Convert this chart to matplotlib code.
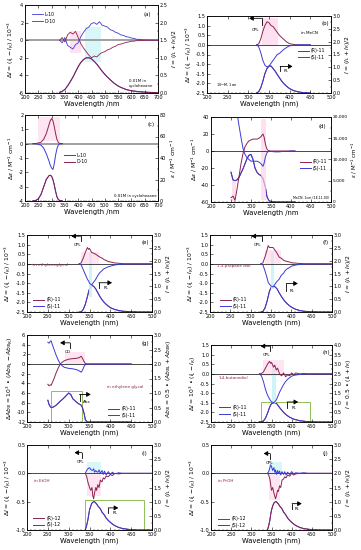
import matplotlib
matplotlib.use("Agg")
import matplotlib.pyplot as plt
from matplotlib.ticker import AutoMinorLocator, FuncFormatter
from matplotlib.patches import Rectangle

BLUE = '#3b3bd4'
MAROON = '#8c2351'
GREEN = '#8fbf5a'
TXT = '#8c2351'

# ---------------- data ----------------
# (a) L-10 / D-10, CPL (1e-3) and PL
wl_a = [330, 340, 350, 360, 370, 380, 390, 400, 410, 420, 430, 440, 450, 460, 470, 480, 490, 500,
        510, 520, 530, 540, 550, 560, 570, 580, 590, 600, 610, 620, 630, 640, 650, 660, 680, 700]
cpl_a_L = [0.0, -0.3, 0.3, -0.6, -0.8, -1.0, -0.5, -0.3, 0.4, 0.9, 1.3, 1.5, 1.9, 2.0, 1.8, 2.1, 1.7, 1.6,
           1.5, 1.2, 1.1, 0.9, 0.8, 0.6, 0.55, 0.4, 0.35, 0.25, 0.2, 0.1, 0.1, 0.05, 0.03, 0.02, 0.0, 0.0]
cpl_a_D = [0.0, 0.3, -0.2, 0.6, 0.9, 0.7, 1.0, 0.3, -0.4, -0.9, -1.3, -1.7, -2.0, -1.8, -1.9, -1.6, -1.4, -1.3,
           -1.1, -1.0, -0.8, -0.7, -0.5, -0.45, -0.35, -0.25, -0.2, -0.12, -0.1, -0.05, -0.05, -0.03, -0.02, 0.0, 0.0, 0.0]
pl_a = [0.02, 0.05, 0.1, 0.2, 0.32, 0.45, 0.6, 0.75, 0.87, 0.95, 1.0, 1.0, 0.97, 0.9, 0.82, 0.72, 0.62, 0.53,
        0.45, 0.38, 0.31, 0.25, 0.2, 0.16, 0.13, 0.1, 0.08, 0.065, 0.055, 0.045, 0.038, 0.03, 0.025, 0.02, 0.015, 0.01]

# (b) (R)/(S)-11 in MeCN
wl_b = [320, 325, 330, 335, 340, 345, 350, 355, 360, 365, 370, 375, 380, 385, 390, 395, 400, 410, 420, 430, 440, 450]
cpl_b_R = [0.0, 0.05, 0.3, 0.7, 1.0, 1.2, 1.15, 1.0, 0.95, 0.8, 0.65, 0.5, 0.4, 0.3, 0.2, 0.12, 0.06, 0.02, 0.0, 0.0, 0.0, 0.0]
cpl_b_S = [0.0, -0.1, -0.4, -0.8, -1.05, -1.15, -1.1, -0.95, -0.8, -0.65, -0.5, -0.45, -0.35, -0.25, -0.17, -0.1, -0.05, -0.02, 0.0, 0.0, 0.0, 0.0]
pl_b = [0.0, 0.05, 0.2, 0.45, 0.75, 0.95, 1.05, 1.05, 0.95, 0.85, 0.72, 0.6, 0.48, 0.38, 0.3, 0.23, 0.17, 0.09, 0.05, 0.02, 0.01, 0.0]

# (c) CD / absorption L-10, D-10
wl_c = [230, 240, 250, 260, 270, 280, 290, 295, 300, 305, 310, 315, 320, 325, 330, 340]
cd_c_D = [0.0, 0.0, 0.05, 0.1, 0.3, 0.7, 1.3, 1.6, 1.75, 1.6, 1.2, 0.7, 0.3, 0.1, 0.02, 0.0]
cd_c_L = [0.0, 0.0, -0.05, -0.1, -0.3, -0.7, -1.2, -1.5, -1.7, -1.8, -1.4, -0.8, -0.35, -0.1, -0.02, 0.0]
abs_c = [0.0, 0.5, 2.0, 6.0, 13.0, 20.0, 23.5, 24.0, 23.0, 20.0, 15.0, 9.0, 4.0, 1.5, 0.5, 0.0]

# (d) CD / absorption (R)/(S)-11 in MeCN
wl_d = [250, 255, 260, 265, 270, 275, 280, 285, 290, 295, 300, 305, 310, 315, 320, 325, 330, 333, 336, 340,
        345, 350, 360, 370, 380, 390, 400, 410]
cd_d_R = [-55, -53, -58, -45, -30, -15, -3, 5, 9, 12, 13, 14, 14, 14, 15, 17, 20, 16, 8, 2,
          0, 0, 0, 0, 0, 0, 0, 0]
cd_d_S = [58, 56, 55, 45, 30, 16, 3, -4, -8, -10, -12, -12, -12, -12, -13, -15, -18, -14, -7, -2,
          0, -0.5, -1, -1, -0.5, -0.5, 0, 0]
abs_d = [7000, 5200, 5000, 5200, 5800, 6800, 7800, 9000, 10200, 11000, 11200, 10000, 8000, 7000, 6500, 6200, 5500, 4500, 3500, 1200,
         300, 100, 0, 0, 0, 0, 0, 0]

# (e) ethylene glycol
wl_e = [325, 330, 335, 340, 345, 348, 350, 355, 360, 365, 370, 375, 380, 385, 390, 395, 400, 410, 420, 430, 440, 450, 470, 500]
cpl_e_R = [0.0, 0.05, 0.3, 0.6, 0.85, 0.75, 0.8, 0.6, 0.55, 0.5, 0.42, 0.35, 0.3, 0.22, 0.18, 0.12, 0.1, 0.05, 0.03, 0.01, 0.0, 0.0, 0.0, 0.0]
cpl_e_S = [0.0, -0.05, -0.3, -0.55, -0.8, -0.9, -1.0, -1.1, -0.95, -0.8, -0.6, -0.45, -0.35, -0.25, -0.2, -0.15, -0.12, -0.06, -0.03, -0.01, 0.0, 0.0, 0.0, 0.0]
pl_e = [0.0, 0.0, 0.1, 0.3, 0.6, 0.8, 0.9, 1.05, 1.0, 0.9, 0.75, 0.6, 0.48, 0.38, 0.3, 0.23, 0.17, 0.1, 0.06, 0.03, 0.02, 0.01, 0.0, 0.0]

# (f) 1,3-propane diol
wl_f = [325, 330, 335, 340, 343, 346, 350, 355, 360, 365, 370, 375, 380, 385, 390, 395, 400, 410, 420, 430, 440, 450, 470, 500]
cpl_f_R = [0.0, 0.05, 0.35, 0.7, 0.95, 0.85, 0.85, 0.85, 0.7, 0.55, 0.35, 0.3, 0.2, 0.15, 0.12, 0.1, 0.06, 0.04, 0.02, 0.01, 0.0, 0.0, 0.0, 0.0]
cpl_f_S = [0.0, -0.05, -0.35, -0.7, -0.95, -1.05, -1.15, -1.2, -1.05, -0.9, -0.8, -0.6, -0.5, -0.35, -0.25, -0.2, -0.12, -0.06, -0.03, -0.01, 0.0, 0.0, 0.0, 0.0]
pl_f = [0.0, 0.02, 0.15, 0.4, 0.6, 0.8, 0.95, 1.02, 0.98, 0.9, 0.75, 0.62, 0.5, 0.4, 0.32, 0.25, 0.19, 0.11, 0.06, 0.03, 0.02, 0.01, 0.0, 0.0]

# (g) CD / Abs in ethylene glycol
wl_g = [250, 253, 256, 258, 260, 265, 270, 275, 280, 285, 290, 300, 305, 310, 320, 325, 330, 333, 337, 340, 345, 350, 380, 410, 450]
cd_g_R = [-4.2, -4.5, -4.3, -4.4, -4.0, -3.0, -1.8, -0.8, 0.0, 0.4, 0.7, 1.0, 1.05, 1.1, 1.2, 1.3, 1.6, 1.2, 0.5, 0.1, 0.0, 0.0, 0.0, 0.0, 0.0]
cd_g_S = [4.5, 4.3, 4.7, 4.8, 4.2, 3.0, 1.8, 0.8, 0.0, -0.4, -0.7, -0.9, -0.95, -1.0, -1.2, -1.4, -1.7, -1.3, -0.5, -0.1, 0.0, 0.0, 0.0, 0.0, 0.0]
abs_g = [0.75, 0.6, 0.53, 0.5, 0.5, 0.53, 0.58, 0.65, 0.72, 0.78, 0.85, 1.0, 0.95, 0.8, 0.67, 0.62, 0.58, 0.5, 0.3, 0.08, 0.0, 0.0, 0.0, 0.0, 0.0]

# (h) 1,4-butanediol
wl_h = [320, 325, 330, 335, 340, 345, 348, 350, 355, 358, 362, 365, 370, 375, 380, 385, 390, 395, 400, 405, 410, 420, 430, 440, 460, 500]
cpl_h_R = [0.0, 0.02, 0.1, 0.3, 0.5, 0.65, 0.55, 0.6, 0.35, 0.45, 0.2, 0.3, 0.0, -0.1, 0.05, -0.15, -0.05, -0.1, 0.05, -0.05, 0.05, 0.0, 0.02, 0.0, 0.0, 0.0]
cpl_h_S = [0.0, -0.1, -0.4, -0.8, -1.1, -1.3, -1.4, -1.45, -1.5, -1.45, -1.35, -1.2, -0.95, -0.75, -0.55, -0.4, -0.28, -0.2, -0.12, -0.08, -0.06, -0.03, -0.01, 0.0, 0.0, 0.0]
pl_h = [0.0, 0.02, 0.05, 0.2, 0.45, 0.75, 0.88, 0.95, 1.0, 1.0, 0.97, 0.9, 0.75, 0.62, 0.5, 0.4, 0.32, 0.25, 0.2, 0.15, 0.12, 0.07, 0.04, 0.02, 0.0, 0.0]

# (i) (R)/(S)-12 in EtOH
wl_i = [340, 343, 346, 350, 353, 356, 358, 360, 362, 365, 367, 370, 373, 376, 380, 383, 386, 390, 395, 400, 405, 410, 420, 430, 440, 450, 470, 500]
cpl_i_S = [0.0, 0.05, 0.08, 0.1, 0.07, 0.05, 0.06, 0.08, 0.02, 0.05, 0.03, 0.02, 0.06, 0.0, 0.05, -0.02, 0.04, -0.03, 0.03, -0.02, 0.02, -0.01, 0.01, 0.0, 0.0, 0.0, 0.0, 0.0]
cpl_i_R = [0.0, -0.05, -0.15, -0.25, -0.3, -0.25, -0.4, -0.45, -0.35, -0.25, -0.3, -0.2, -0.25, -0.12, -0.15, -0.08, -0.1, -0.05, -0.06, -0.02, -0.04, 0.0, -0.01, 0.0, 0.0, 0.0, 0.0, 0.0]
pl_i = [0.0, 0.15, 0.35, 0.7, 0.85, 0.95, 0.98, 1.0, 1.0, 0.95, 0.92, 0.85, 0.8, 0.75, 0.63, 0.58, 0.52, 0.42, 0.34, 0.27, 0.21, 0.16, 0.09, 0.05, 0.03, 0.01, 0.0, 0.0]

# (j) (R)/(S)-12 in PrOH
wl_j = [340, 343, 346, 348, 350, 353, 356, 358, 360, 362, 365, 367, 370, 373, 376, 380, 383, 386, 390, 395, 400, 405, 410, 420, 430, 440, 450, 470, 500]
cpl_j_R = [0.0, 0.03, 0.1, 0.15, 0.12, 0.05, 0.1, 0.02, 0.06, -0.02, 0.05, 0.0, 0.04, -0.03, 0.03, -0.02, 0.03, -0.03, 0.02, -0.02, 0.03, -0.01, 0.01, 0.0, 0.01, 0.0, 0.0, 0.0, 0.0]
cpl_j_S = [0.0, -0.03, -0.1, -0.2, -0.3, -0.25, -0.35, -0.4, -0.45, -0.4, -0.3, -0.32, -0.22, -0.25, -0.12, -0.1, -0.06, -0.08, -0.03, -0.05, 0.0, -0.03, -0.01, 0.0, 0.0, 0.0, 0.0, 0.0, 0.0]
pl_j = [0.0, 0.15, 0.35, 0.55, 0.7, 0.85, 0.95, 0.98, 1.0, 1.0, 0.95, 0.92, 0.85, 0.8, 0.75, 0.63, 0.58, 0.52, 0.42, 0.34, 0.27, 0.21, 0.16, 0.09, 0.05, 0.03, 0.01, 0.0, 0.0]

# ---------------- figure ----------------
W, H = 361, 550
fig = plt.figure(figsize=(W / 100, H / 100), dpi=100)
plt.rcParams['font.family'] = ['DejaVu Sans']
plt.rcParams['mathtext.fontset'] = 'dejavusans'


def make_axes(x0, x1, y0, y1):
    return fig.add_axes([x0 / W, 1 - y1 / H, (x1 - x0) / W, (y1 - y0) / H])


def fmt1(v, p):
    return f'{v:.1f}'


def fmt0(v, p):
    return f'{v:.0f}'


def fmtk(v, p):
    return f'{v:,.0f}'


def style(ax, xlim, xticks, ylim, yticks, y2lim, y2ticks, yfmt, y2fmt, ylabel, y2label, xlabel,
          y2size=3.6):
    ax2 = ax.twinx()
    ax.set_xlim(*xlim)
    ax.set_xticks(xticks)
    ax.set_ylim(*ylim)
    ax.set_yticks(yticks)
    ax2.set_ylim(*y2lim)
    ax2.set_yticks(y2ticks)
    ax.yaxis.set_major_formatter(FuncFormatter(yfmt))
    ax2.yaxis.set_major_formatter(FuncFormatter(y2fmt))
    ax.xaxis.set_minor_locator(AutoMinorLocator(5))
    ax.yaxis.set_minor_locator(AutoMinorLocator(2))
    ax2.yaxis.set_minor_locator(AutoMinorLocator(2))
    for a in (ax, ax2):
        for s in a.spines.values():
            s.set_linewidth(0.5)
    ax.tick_params(which='major', direction='in', top=True, right=False, labelsize=3.6,
                   length=2.0, width=0.4, pad=1.2)
    ax.tick_params(which='minor', direction='in', top=True, right=False, length=1.0, width=0.3)
    ax2.tick_params(which='major', direction='in', labelsize=y2size, length=2.0, width=0.4, pad=1.2)
    ax2.tick_params(which='minor', direction='in', length=1.0, width=0.3)
    ax.set_ylabel(ylabel, fontsize=4.3, labelpad=1.5)
    ax2.set_ylabel(y2label, fontsize=4.3, labelpad=1.5)
    ax.set_xlabel(xlabel, fontsize=4.9, labelpad=0.8)
    ax.set_zorder(ax2.get_zorder() + 1)
    ax.patch.set_visible(False)
    return ax2


def text(ax, x, y, s, size=3.2, color='k', **kw):
    ax.text(x, y, s, transform=ax.transAxes, fontsize=size, color=color, **kw)


ARROW = dict(arrowstyle='-|>,head_length=0.6,head_width=0.35', lw=0.6, color='k',
             shrinkA=0, shrinkB=0, mutation_scale=4)


def lshape(ax, tip, end, y, stem_to, label, lx, ly):
    ax.annotate('', xy=(tip, y), xytext=(end, y), xycoords='axes fraction', arrowprops=ARROW)
    ax.plot([end, end], [y, stem_to], transform=ax.transAxes, color='k', lw=0.6, clip_on=False)
    text(ax, lx, ly, label, size=3.0)


def rlshape(ax, x, y0, y1, tip, label, lx, ly):
    ax.plot([x, x], [y0, y1], transform=ax.transAxes, color='k', lw=0.6, clip_on=False)
    ax.annotate('', xy=(tip, y1), xytext=(x, y1), xycoords='axes fraction', arrowprops=ARROW)
    text(ax, lx, ly, label, size=3.0)


def legend(ax, handles, labels, x, y):
    ax.legend(handles, labels, loc='upper left', bbox_to_anchor=(x, y), frameon=False,
              fontsize=3.3, handlelength=2.4, borderpad=0, borderaxespad=0, labelspacing=0.35,
              handletextpad=0.5)


lw = 0.7
WL_NM = 'Wavelength /nm'
WL_PAR = 'Wavelength (nm)'
YL_I = r'$\Delta I$ = $(I_L - I_R)$ / $10^{-3}$'
Y2_I = r'$I$ = $(I_L + I_R)/2$'
YL_E = r'$\Delta\varepsilon$ / M$^{-1}$ cm$^{-1}$'
Y2_E = r'$\varepsilon$ / M$^{-1}$ cm$^{-1}$'
PINK = '#ffd3ea'
CYAN = '#c9f3f7'

# ---------- (a) ----------
ax = make_axes(25, 158, 5, 93)
ax2 = style(ax, (200, 700), range(200, 701, 50), (-6, 4), range(-6, 5, 2), (0, 2.5),
            [0, 0.5, 1.0, 1.5, 2.0, 2.5], fmt0, fmt1, YL_I, Y2_I, WL_NM)
ax2.axvspan(425, 485, ymin=0.35, ymax=0.75, color=CYAN, lw=0, alpha=0.7)
ax2.axvspan(370, 410, ymin=0.45, ymax=0.7, color=PINK, lw=0, alpha=0.7)
ax.axhline(0, color='#a0a0a0', lw=1.4, zorder=1)
ax2.plot(wl_a, pl_a, color=BLUE, lw=lw)
ax2.plot(wl_a, pl_a, color=MAROON, lw=lw)
hL, = ax.plot(wl_a, cpl_a_L, color=BLUE, lw=0.6)
hD, = ax.plot(wl_a, cpl_a_D, color=MAROON, lw=0.6)
legend(ax, [hL, hD], ['L-10', 'D-10'], 0.05, 0.92)
text(ax, 0.89, 0.87, '(a)', size=3.8)
text(ax, 0.78, 0.07, '0.01M in\ncyclohexane', size=2.8)

# ---------- (b) ----------
ax = make_axes(207, 331, 16, 93)
ax2 = style(ax, (200, 500), range(200, 501, 50), (-2.5, 1.5), [-2.5, -2, -1.5, -1, -0.5, 0, 0.5, 1, 1.5],
            (0, 3.0), [0, 0.5, 1, 1.5, 2, 2.5, 3], fmt1, fmt1, YL_I, Y2_I, WL_PAR)
ax.axvspan(333, 372, ymin=0.62, ymax=0.98, color=PINK, lw=0, alpha=0.7)
ax.axhline(0, color='k', lw=0.5, zorder=1)
ax2.plot(wl_b, pl_b, color=MAROON, lw=lw)
ax2.plot(wl_b, pl_b, color=BLUE, lw=lw)
hR, = ax.plot(wl_b, cpl_b_R, color=MAROON, lw=lw)
hS, = ax.plot(wl_b, cpl_b_S, color=BLUE, lw=lw)
legend(ax, [hR, hS], ['(R)-11', '(S)-11'], 0.73, 0.58)
text(ax, 0.92, 0.88, '(b)', size=3.8)
text(ax, 0.76, 0.76, 'in MeCN', size=3.0)
text(ax, 0.07, 0.08, r'10$^{-4}$M, 1cm', size=2.4)
lshape(ax, 0.34, 0.44, 0.97, 0.88, 'CPL', 0.36, 0.81)
rlshape(ax, 0.59, 0.28, 0.345, 0.69, 'PL', 0.62, 0.27)

# ---------- (c) ----------
ax = make_axes(25, 158, 115, 201)
ax2 = style(ax, (200, 700), range(200, 701, 50), (-4, 2), range(-4, 3, 1), (0, 80),
            range(0, 81, 20), fmt0, fmt0, YL_E, Y2_E, WL_NM)
ax.axvspan(250, 330, ymin=0.7, ymax=0.98, color=PINK, lw=0, alpha=0.6)
ax.axhline(0, color='#a0a0a0', lw=1.4, zorder=1)
ax2.plot(wl_c, abs_c, color=BLUE, lw=lw)
ax2.plot(wl_c, abs_c, color=MAROON, lw=lw)
hL, = ax.plot(wl_c, cd_c_L, color=BLUE, lw=lw)
hD, = ax.plot(wl_c, cd_c_D, color=MAROON, lw=lw)
legend(ax, [hL, hD], ['L-10', 'D-10'], 0.29, 0.56)
text(ax, 0.92, 0.87, '(c)', size=3.8)
text(ax, 0.67, 0.05, '0.01M in cyclohexane', size=2.8)

# ---------- (d) ----------
ax = make_axes(211, 331, 117, 202)
ax2 = style(ax, (200, 500), range(200, 501, 50), (-60, 40), range(-60, 41, 20), (0, 20000),
            range(0, 20001, 5000), fmt0, fmtk, YL_E, Y2_E, WL_NM, y2size=3.2)
ax2.yaxis.label.set_fontsize(4.0)
ax.axvspan(325, 337, ymin=0.02, ymax=0.98, color=PINK, lw=0, alpha=0.7)
ax.axvspan(252, 262, ymin=0.0, ymax=0.25, color=PINK, lw=0, alpha=0.7)
ax.axhline(0, color='k', lw=0.5, zorder=1)
ax2.plot(wl_d, abs_d, color=MAROON, lw=lw)
ax2.plot(wl_d, abs_d, color=BLUE, lw=lw)
hR, = ax.plot(wl_d, cd_d_R, color=MAROON, lw=lw)
hS, = ax.plot(wl_d, cd_d_S, color=BLUE, lw=lw)
legend(ax, [hR, hS], ['(R)-11', '(S)-11'], 0.74, 0.5)
text(ax, 0.9, 0.87, '(d)', size=3.8)
text(ax, 0.68, 0.04, 'MeCN, 1cm (1E-11.00)', size=2.3)

# ---------- (e) ----------
ax = make_axes(27, 152, 235, 312)
ax2 = style(ax, (200, 500), range(200, 501, 50), (-2.5, 1.5), [-2.5, -2, -1.5, -1, -0.5, 0, 0.5, 1, 1.5],
            (0, 3.0), [0, 0.5, 1, 1.5, 2, 2.5, 3], fmt1, fmt1, YL_I, Y2_I, WL_PAR)
ax.axvspan(349, 357, ymin=0.2, ymax=0.78, color=CYAN, lw=0, alpha=0.9)
ax.axvspan(330, 372, ymin=0.62, ymax=0.78, color=PINK, lw=0, alpha=0.6)
ax.axhline(0, color='k', lw=0.5, zorder=1)
ax2.plot(wl_e, pl_e, color=MAROON, lw=lw)
ax2.plot(wl_e, pl_e, color=BLUE, lw=lw)
hR, = ax.plot(wl_e, cpl_e_R, color=MAROON, lw=lw)
hS, = ax.plot(wl_e, cpl_e_S, color=BLUE, lw=lw)
legend(ax, [hR, hS], ['(R)-11', '(S)-11'], 0.05, 0.19)
text(ax, 0.92, 0.88, '(e)', size=3.8)
text(ax, 0.05, 0.6, 'in ethyleneglycol', size=3.0, color=TXT)
lshape(ax, 0.355, 0.43, 0.985, 0.92, 'CPL', 0.37, 0.86)
rlshape(ax, 0.575, 0.31, 0.38, 0.68, 'PL', 0.61, 0.3)

# ---------- (f) ----------
ax = make_axes(210, 332, 235, 312)
ax2 = style(ax, (200, 500), range(200, 501, 50), (-2.5, 1.5), [-2.5, -2, -1.5, -1, -0.5, 0, 0.5, 1, 1.5],
            (0, 3.0), [0, 0.5, 1, 1.5, 2, 2.5, 3], fmt1, fmt1, YL_I, Y2_I, WL_PAR)
ax.axvspan(350, 358, ymin=0.3, ymax=0.78, color=CYAN, lw=0, alpha=0.9)
ax.axvspan(335, 375, ymin=0.62, ymax=0.8, color=PINK, lw=0, alpha=0.6)
ax.axhline(0, color='k', lw=0.5, zorder=1)
ax2.plot(wl_f, pl_f, color=MAROON, lw=lw)
ax2.plot(wl_f, pl_f, color=BLUE, lw=lw)
hR, = ax.plot(wl_f, cpl_f_R, color=MAROON, lw=lw)
hS, = ax.plot(wl_f, cpl_f_S, color=BLUE, lw=lw)
legend(ax, [hR, hS], ['(R)-11', '(S)-11'], 0.08, 0.19)
text(ax, 0.92, 0.88, '(f)', size=3.8)
text(ax, 0.06, 0.58, '1,3-propane diol', size=3.0, color=TXT)
lshape(ax, 0.34, 0.425, 0.985, 0.92, 'CPL', 0.36, 0.86)
rlshape(ax, 0.625, 0.27, 0.37, 0.72, 'PL', 0.655, 0.26)

# ---------- (g) ----------
ax = make_axes(27, 152, 335, 422)
ax2 = style(ax, (200, 500), range(200, 501, 50), (-12, 6), range(-12, 7, 2), (0, 3.0),
            [0, 0.5, 1, 1.5, 2, 2.5, 3], fmt0, fmt1,
            r'$\Delta Abs$ = $10^3$ $\bullet$ $(Abs_L - Abs_R)$',
            r'$Abs$ = 0.5 $\bullet$ $(Abs_L + Abs_R)$', WL_PAR)
ax.axvspan(290, 340, ymin=0.67, ymax=0.8, color=PINK, lw=0, alpha=0.6)
ax.axhline(0, color='k', lw=0.5, zorder=1)
ax2.add_patch(Rectangle((258, 0), 74, 1.07, fill=False, edgecolor=GREEN, lw=0.7))
ax2.plot(wl_g, abs_g, color=MAROON, lw=lw)
ax2.plot(wl_g, abs_g, color=BLUE, lw=lw)
hR, = ax.plot(wl_g, cd_g_R, color=MAROON, lw=lw)
hS, = ax.plot(wl_g, cd_g_S, color=BLUE, lw=lw)
legend(ax, [hR, hS], ['(R)-11', '(S)-11'], 0.65, 0.18)
text(ax, 0.92, 0.88, '(g)', size=3.8)
text(ax, 0.64, 0.39, 'in ethylene glycol', size=3.0, color=TXT)
lshape(ax, 0.265, 0.345, 0.91, 0.85, 'CD', 0.3, 0.79)
rlshape(ax, 0.42, 0.237, 0.317, 0.51, 'Abs', 0.445, 0.22)

# ---------- (h) ----------
ax = make_axes(211, 332, 345, 422)
ax2 = style(ax, (200, 500), range(200, 501, 50), (-2.5, 1.5), [-2.5, -2, -1.5, -1, -0.5, 0, 0.5, 1, 1.5],
            (0, 4.0), [0, 0.5, 1, 1.5, 2, 2.5, 3, 3.5, 4], fmt1, fmt1,
            r'$\Delta I$ = $10^3$ $\bullet$ $(I_L - I_R)$', r'$I$ = 0.5 $\bullet$ $(I_L + I_R)$', WL_PAR)
ax.axvspan(351, 360, ymin=0.25, ymax=0.75, color=CYAN, lw=0, alpha=0.9)
ax.axvspan(330, 380, ymin=0.6, ymax=0.8, color=PINK, lw=0, alpha=0.6)
ax.axhline(0, color='k', lw=0.5, zorder=1)
ax2.add_patch(Rectangle((325, 0), 120, 1.05, fill=False, edgecolor=GREEN, lw=0.7))
ax2.plot(wl_h, pl_h, color=MAROON, lw=lw)
ax2.plot(wl_h, pl_h, color=BLUE, lw=lw)
hR, = ax.plot(wl_h, cpl_h_R, color=MAROON, lw=lw)
hS, = ax.plot(wl_h, cpl_h_S, color=BLUE, lw=lw)
legend(ax, [hR, hS], ['(R)-11', '(S)-11'], 0.07, 0.22)
text(ax, 0.92, 0.88, '(h)', size=3.8)
text(ax, 0.06, 0.56, '1,4-butanediol', size=3.0, color=TXT)
lshape(ax, 0.41, 0.49, 0.985, 0.92, 'CPL', 0.43, 0.86)
rlshape(ax, 0.63, 0.185, 0.26, 0.72, 'PL', 0.665, 0.17)

# ---------- (i) ----------
ax = make_axes(27, 152, 445, 530)
ax2 = style(ax, (200, 500), range(200, 501, 50), (-1.0, 0.5), [-1.0, -0.5, 0, 0.5],
            (0, 3.0), [0, 0.5, 1, 1.5, 2, 2.5, 3], fmt1, fmt1, YL_I, Y2_I, WL_PAR)
ax.axvspan(343, 378, ymin=0.67, ymax=0.8, color=CYAN, lw=0, alpha=0.7)
ax.axvspan(345, 378, ymin=0.4, ymax=0.67, color=PINK, lw=0, alpha=0.6)
ax.axhline(0, color='k', lw=0.5, zorder=1)
ax2.add_patch(Rectangle((340, 0), 140, 1.05, fill=False, edgecolor=GREEN, lw=0.7))
ax2.plot(wl_i, pl_i, color=MAROON, lw=lw)
ax2.plot(wl_i, pl_i, color=BLUE, lw=lw)
hR, = ax.plot(wl_i, cpl_i_R, color=MAROON, lw=lw)
hS, = ax.plot(wl_i, cpl_i_S, color=BLUE, lw=lw)
legend(ax, [hR, hS], ['(R)-12', '(S)-12'], 0.05, 0.17)
text(ax, 0.92, 0.88, '(i)', size=3.8)
text(ax, 0.06, 0.56, 'in EtOH', size=3.0, color=TXT)
lshape(ax, 0.38, 0.44, 0.91, 0.85, 'CPL', 0.4, 0.79)
rlshape(ax, 0.65, 0.2, 0.26, 0.73, 'PL', 0.685, 0.19)

# ---------- (j) ----------
ax = make_axes(211, 332, 445, 530)
ax2 = style(ax, (200, 500), range(200, 501, 50), (-1.0, 0.5), [-1.0, -0.5, 0, 0.5],
            (0, 3.0), [0, 0.5, 1, 1.5, 2, 2.5, 3], fmt1, fmt1, YL_I, Y2_I, WL_PAR)
ax.axvspan(343, 375, ymin=0.67, ymax=0.8, color=CYAN, lw=0, alpha=0.7)
ax.axvspan(345, 372, ymin=0.35, ymax=0.67, color=PINK, lw=0, alpha=0.6)
ax.axhline(0, color='k', lw=0.5, zorder=1)
ax2.plot(wl_j, pl_j, color=BLUE, lw=lw)
ax2.plot(wl_j, pl_j, color=MAROON, lw=lw)
hR, = ax.plot(wl_j, cpl_j_R, color=BLUE, lw=lw)
hS, = ax.plot(wl_j, cpl_j_S, color=MAROON, lw=lw)
legend(ax, [hR, hS], ['(R)-12', '(S)-12'], 0.06, 0.16)
text(ax, 0.92, 0.88, '(j)', size=3.8)
text(ax, 0.06, 0.56, 'in PrOH', size=3.0, color=TXT)
lshape(ax, 0.435, 0.49, 0.9, 0.84, 'CPL', 0.45, 0.78)
rlshape(ax, 0.67, 0.25, 0.31, 0.75, 'PL', 0.695, 0.24)

fig.savefig('out.png', dpi=100)
